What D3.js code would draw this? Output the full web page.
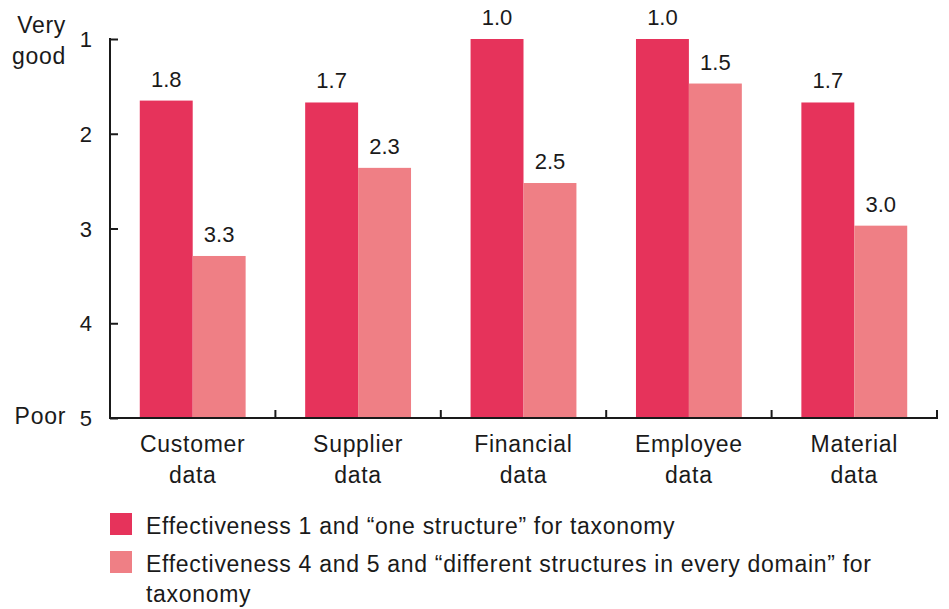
<!DOCTYPE html>
<html>
<head>
<meta charset="utf-8">
<script src="https://cdn.jsdelivr.net/npm/d3@7"></script>
<style>
  body { margin: 0; background: #fff; }
  text { font-family: "Liberation Sans", Arial, Helvetica, sans-serif; fill: #1a1a1a; }
  .wide { font-size: 23px; letter-spacing: 0.7px; }
</style>
</head>
<body>
<div id="chart"></div>
<script>
// data
var categories = [["Customer", "data"], ["Supplier", "data"], ["Financial", "data"], ["Employee", "data"], ["Material", "data"]];
var seriesNames = ["Effectiveness 1 and \u201cone structure\u201d for taxonomy",
                   "Effectiveness 4 and 5 and \u201cdifferent structures in every domain\u201d for|taxonomy"];
var oneStructure = [1.65, 1.67, 1.0, 1.0, 1.67];      // bar tops as drawn
var differentStructures = [3.29, 2.36, 2.52, 1.47, 2.97];
var oneLabels = ["1.8", "1.7", "1.0", "1.0", "1.7"];   // printed values
var diffLabels = ["3.3", "2.3", "2.5", "1.5", "3.0"];
var yTicks = [1, 2, 3, 4, 5];
var colors = ["#e6335b", "#ef7f85"];

var width = 949, height = 609;
var svg = d3.select("#chart").append("svg")
    .attr("width", width)
    .attr("height", height);

var mLeft = 110, mRight = 937, mTop = 39, mBottom = 418;

var x = d3.scaleBand()
    .domain(d3.range(categories.length))
    .range([mLeft, mRight])
    .paddingInner(0.36)
    .paddingOuter(0.18);

var xSub = d3.scaleBand()
    .domain([0, 1])
    .range([0, x.bandwidth()]);

// inverted: 1 = very good at top, bars grow from 5
var y = d3.scaleLinear().domain([1, 5]).range([mTop, mBottom]);

var rows = categories.map(function(c, i) {
    return [
        {s: 0, v: oneStructure[i], label: oneLabels[i]},
        {s: 1, v: differentStructures[i], label: diffLabels[i]}
    ];
});

var groups = svg.selectAll("g.cat")
    .data(rows)
    .enter().append("g")
    .attr("class", "cat")
    .attr("transform", function(d, i) { return "translate(" + x(i) + ",0)"; });

groups.selectAll("rect")
    .data(function(d) { return d; })
    .enter().append("rect")
    .attr("x", function(d) { return xSub(d.s); })
    .attr("width", xSub.bandwidth())
    .attr("y", function(d) { return y(d.v); })
    .attr("height", function(d) { return y(5) - y(d.v); })
    .attr("fill", function(d) { return colors[d.s]; });

groups.selectAll("text.val")
    .data(function(d) { return d; })
    .enter().append("text")
    .attr("class", "val")
    .attr("x", function(d) { return xSub(d.s) + xSub.bandwidth() / 2; })
    .attr("y", function(d) { return y(d.v) - 14; })
    .attr("text-anchor", "middle")
    .style("font-size", "22px")
    .text(function(d) { return d.label; });

// y axis, ticks pointing inward
var yAxis = svg.append("g")
    .attr("transform", "translate(" + mLeft + ",0)")
    .call(d3.axisRight(y).tickValues(yTicks).tickSize(8).tickFormat(""));
yAxis.select(".domain").remove();
yAxis.selectAll("line").attr("stroke", "#1a1a1a").attr("stroke-width", 2);
yAxis.append("line")
    .attr("x1", 0).attr("x2", 0)
    .attr("y1", y(1) - 1).attr("y2", y(5) + 1)
    .attr("stroke", "#1a1a1a").attr("stroke-width", 2);

svg.selectAll("text.ytick")
    .data(yTicks)
    .enter().append("text")
    .attr("class", "ytick")
    .attr("x", mLeft - 18)
    .attr("y", function(d) { return y(d) + 8; })
    .attr("text-anchor", "end")
    .style("font-size", "22px")
    .text(function(d) { return d; });

svg.append("text")
    .attr("class", "wide")
    .attr("text-anchor", "end")
    .selectAll("tspan")
    .data(["Very", "good"])
    .enter().append("tspan")
    .attr("x", 66)
    .attr("y", function(d, i) { return 33 + i * 31; })
    .text(function(d) { return d; });

svg.append("text")
    .attr("class", "wide")
    .attr("x", 66).attr("y", y(5) + 6)
    .attr("text-anchor", "end")
    .text("Poor");

// x axis with separator ticks pointing up
var boundaries = d3.range(categories.length).map(function(i) { return x(i) + x.bandwidth() + x.step() * 0.18; });
svg.append("line")
    .attr("x1", mLeft - 1).attr("x2", mRight + 1)
    .attr("y1", y(5)).attr("y2", y(5))
    .attr("stroke", "#1a1a1a").attr("stroke-width", 2);
svg.selectAll("line.sep")
    .data(boundaries)
    .enter().append("line")
    .attr("class", "sep")
    .attr("x1", function(d) { return d; })
    .attr("x2", function(d) { return d; })
    .attr("y1", y(5)).attr("y2", y(5) - 8)
    .attr("stroke", "#1a1a1a").attr("stroke-width", 2);

svg.selectAll("text.catlabel")
    .data(categories)
    .enter().append("text")
    .attr("class", "catlabel wide")
    .attr("text-anchor", "middle")
    .each(function(d, i) {
        d3.select(this).selectAll("tspan")
            .data(d)
            .enter().append("tspan")
            .attr("x", x(i) + x.bandwidth() / 2)
            .attr("y", function(t, j) { return 452 + j * 31; })
            .text(function(t) { return t; });
    });

// legend
var legend = svg.selectAll("g.legend")
    .data(seriesNames)
    .enter().append("g")
    .attr("class", "legend")
    .attr("transform", function(d, i) { return "translate(110," + (513 + i * 38) + ")"; });

legend.append("rect")
    .attr("width", 22).attr("height", 22)
    .attr("fill", function(d, i) { return colors[i]; });

legend.append("text")
    .attr("class", "wide")
    .selectAll("tspan")
    .data(function(d) { return d.split("|"); })
    .enter().append("tspan")
    .attr("x", 36)
    .attr("y", function(t, j) { return 21 + j * 30; })
    .text(function(t) { return t; });
</script>
</body>
</html>
